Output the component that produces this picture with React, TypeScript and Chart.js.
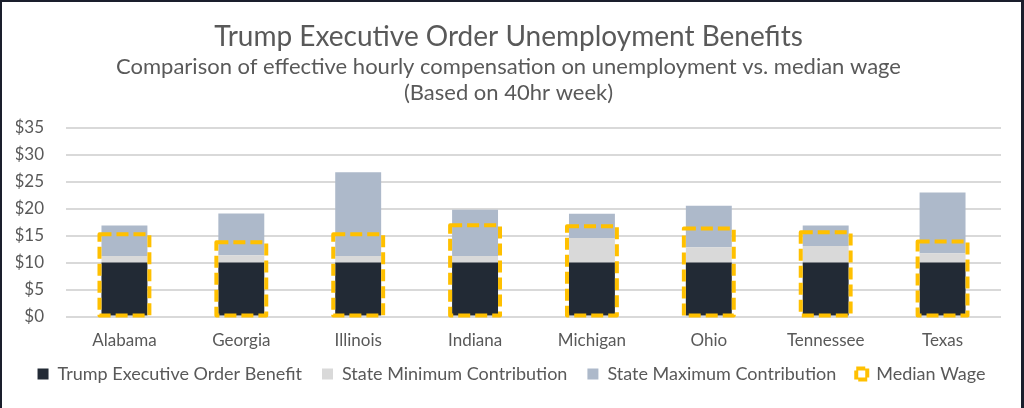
import React, { useEffect, useRef } from "react";
import { Chart, registerables } from "chart.js";

Chart.register(...registerables);

const categories = ["Alabama", "Georgia", "Illinois", "Indiana", "Michigan", "Ohio", "Tennessee", "Texas"];
const trumpBenefit = [10, 10, 10, 10, 10, 10, 10, 10];
const stateMinimum = [1.2, 1.36, 1.2, 1.2, 4.55, 2.86, 3.05, 1.74];
const stateMaximum = [5.65, 7.74, 15.5, 8.6, 4.5, 7.64, 3.8, 11.23];
const medianWage = [15.24, 13.74, 15.24, 16.9, 16.74, 16.3, 15.6, 13.9];
const yTicks = ["$0", "$5", "$10", "$15", "$20", "$25", "$30", "$35"];

const TEXT = "#595959";
const FONT = "Lato, 'Open Sans', sans-serif";
const YELLOW = "#FFC000";

const dashedMedianPlugin = {
  id: "dashedMedian",
  beforeLayout(chart: any) {
    const lg = chart.legend;
    if (lg && !lg.__patched) {
      const orig = lg.fit;
      lg.fit = function () {
        const mw = this.maxWidth;
        this.maxWidth = this.chart.width;
        orig.call(this);
        this.maxWidth = mw;
        this.width = mw;
        this.height = 40;
      };
      lg.__patched = true;
    }
  },
  afterLayout(chart: any) {
    const lg = chart.legend;
    if (lg) {
      lg.top -= 20;
      lg.bottom -= 20;
      lg.left = 0;
      lg.right = chart.width;
      lg.width = chart.width;
    }
  },
  afterDatasetsDraw(chart: any) {
    const meta = chart.getDatasetMeta(3);
    if (!meta || meta.hidden) return;
    const ctx = chart.ctx;
    ctx.save();
    ctx.strokeStyle = YELLOW;
    ctx.lineWidth = 4;
    ctx.setLineDash([12, 5]);
    ctx.lineJoin = "round";
    meta.data.forEach((el: any) => {
      const p = el.getProps(["x", "y", "base", "width"], true);
      const left = p.x - p.width / 2;
      const top = Math.min(p.y, p.base);
      const h = Math.abs(p.base - p.y);
      ctx.beginPath();
      ctx.rect(left, top, p.width, h);
      ctx.stroke();
    });
    ctx.restore();
  },
};

export default function App() {
  const ref = useRef<HTMLCanvasElement>(null);
  useEffect(() => {
    document.body.style.margin = "0";
    const chart = new Chart(ref.current!, {
      type: "bar",
      data: {
        labels: categories,
        datasets: [
          {
            label: "Trump Executive Order Benefit",
            data: trumpBenefit,
            backgroundColor: "#222a35",
            stack: "s",
            barPercentage: 0.393,
            categoryPercentage: 1,
          },
          {
            label: "State Minimum Contribution",
            data: stateMinimum,
            backgroundColor: "#d9d9d9",
            stack: "s",
            barPercentage: 0.393,
            categoryPercentage: 1,
          },
          {
            label: "State Maximum Contribution",
            data: stateMaximum,
            backgroundColor: "#adb9ca",
            stack: "s",
            barPercentage: 0.393,
            categoryPercentage: 1,
          },
          {
            label: "Median Wage",
            data: medianWage,
            backgroundColor: "rgba(0,0,0,0)",
            borderWidth: 0,
            stack: "m",
            barPercentage: 0.427,
            categoryPercentage: 1,
          },
        ],
      },
      options: {
        animation: false,
        responsive: false,
        maintainAspectRatio: false,
        datasets: { bar: { grouped: false } },
        layout: { padding: { left: 14, right: 20, top: 18, bottom: 3 } },
        scales: {
          x: {
            stacked: true,
            grid: { display: false, drawTicks: false },
            border: { display: false },
            ticks: { color: TEXT, font: { family: FONT, size: 17 }, padding: 14 },
          },
          y: {
            stacked: true,
            min: 0,
            max: 35,
            grid: { color: "#d9d9d9", lineWidth: 2, drawTicks: false },
            border: { display: false },
            afterFit: (s: any) => {
              s.width = 50;
            },
            ticks: {
              stepSize: 5,
              color: TEXT,
              font: { family: FONT, size: 17 },
              padding: 22,
              callback: (v: any) => yTicks[Math.round(Number(v) / 5)],
            },
          },
        },
        plugins: {
          tooltip: { enabled: false },
          title: {
            display: true,
            text: "Trump Executive Order Unemployment Benefits",
            color: TEXT,
            font: { family: FONT, size: 28, weight: "normal", lineHeight: 1.2 },
            padding: { top: 0, bottom: 0 },
          },
          subtitle: {
            display: true,
            text: ["Comparison of effective hourly compensation on unemployment vs. median wage", "(Based on 40hr week)"],
            color: TEXT,
            font: { family: FONT, size: 22, weight: "normal", lineHeight: 1.18 },
            padding: { top: 0, bottom: 22 },
          },
          legend: {
            position: "bottom",
            labels: {
              color: TEXT,
              font: { family: FONT, size: 18 },
              boxWidth: 11,
              boxHeight: 11,
              padding: 20,
              generateLabels: (c: any) =>
                c.data.datasets.map((d: any, i: number) => ({
                  text: d.label,
                  fillStyle: i === 3 ? "#ffffff" : d.backgroundColor,
                  strokeStyle: i === 3 ? YELLOW : d.backgroundColor,
                  lineWidth: i === 3 ? 4 : 0,
                  lineDash: i === 3 ? [9, 2] : [],
                  fontColor: TEXT,
                  hidden: false,
                  datasetIndex: i,
                })),
            },
          },
        },
      },
      plugins: [dashedMedianPlugin],
    });
    return () => chart.destroy();
  }, []);
  return (
    <div
      style={{
        position: "absolute",
        left: 0,
        top: 0,
        width: 1024,
        height: 408,
        boxSizing: "border-box",
        borderTop: "2px solid #1a1e2c",
        borderLeft: "2px solid #1a1e2c",
        borderRight: "3px solid #1a1e2c",
        background: "#fff",
      }}
    >
      <canvas ref={ref} width={1019} height={406} style={{ display: "block" }} />
    </div>
  );
}
